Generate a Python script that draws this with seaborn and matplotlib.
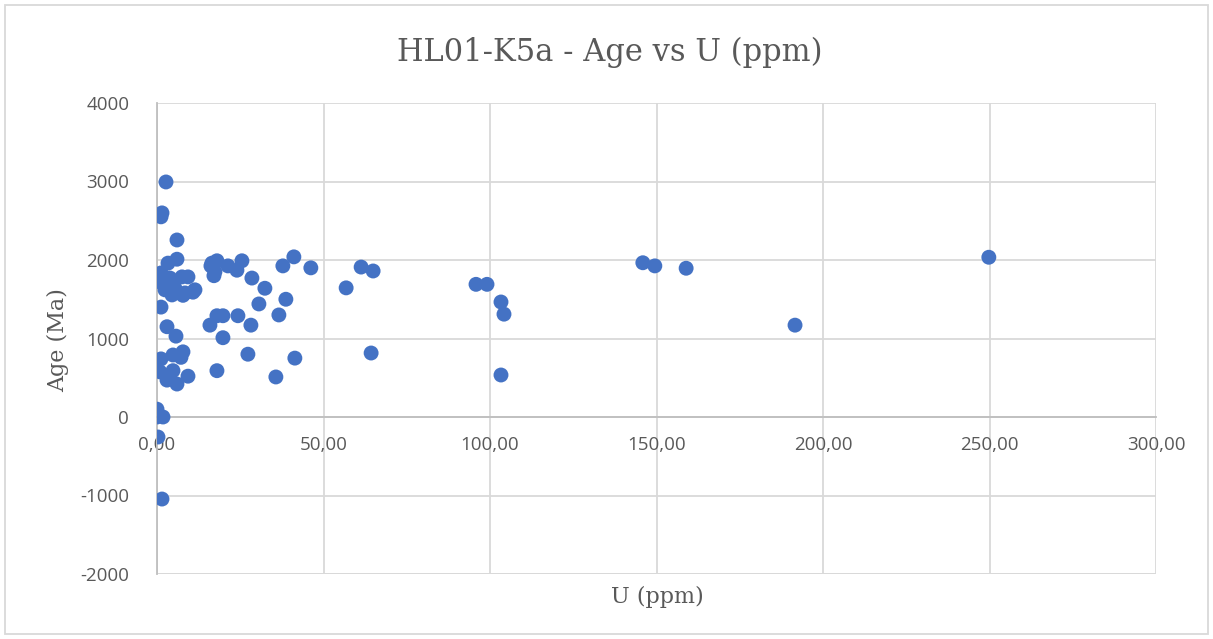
#!/usr/bin/env python3
"""
Scatter of zircon age vs U content (HL01-K5a), Excel-style look.
"""

import pandas as pd
import matplotlib.pyplot as plt
import seaborn as sns
from matplotlib.patches import Rectangle

# U (ppm) and Age (Ma)
u_ppm = [
    2.7, 1.5, 1.2, 6.0, 6.0, 3.3, 1.2, 0.9, 3.9, 7.5, 9.3, 2.4, 5.4, 8.4,
    11.4, 4.5, 1.2, 10.8, 7.8, 16.5, 17.4, 18.0, 16.2, 17.1, 21.3, 25.5,
    24.0, 28.5, 32.4, 37.8, 41.1, 46.2, 30.6, 38.7, 36.6, 18.0, 19.8, 15.9,
    24.3, 28.2, 3.0, 5.7, 19.8, 1.2, 4.8, 7.8, 7.2, 0.9, 4.8, 3.0, 6.0,
    9.3, 18.0, 27.3, 35.7, 41.4, 0.0, 1.8, 0.0, 0.3, 1.5, 56.8, 61.3, 64.9,
    64.3, 95.8, 99.1, 103.3, 104.2, 103.3, 145.9, 149.5, 158.9, 191.6, 249.8,
]
age_ma = [
    2994, 2600, 2550, 2255, 2010, 1960, 1835, 1720, 1770, 1785, 1785, 1620,
    1640, 1580, 1620, 1555, 1400, 1590, 1550, 1960, 1850, 1990, 1925, 1800,
    1925, 1990, 1870, 1770, 1640, 1925, 2040, 1900, 1440, 1500, 1300, 1290,
    1290, 1170, 1290, 1170, 1150, 1030, 1010, 740, 790, 830, 760, 575, 590,
    470, 420, 520, 590, 800, 510, 750, 100, 0, 0, -255, -1045, 1645, 1910,
    1860, 815, 1690, 1690, 1465, 1310, 535, 1965, 1925, 1895, 1170, 2035,
]

x_ticks = [0, 50, 100, 150, 200, 250, 300]
y_ticks = [-2000, -1000, 0, 1000, 2000, 3000, 4000]

GRID = "#d9d9d9"
TEXT = "#595959"
DOT = "#4472c4"


def main():
    df = pd.DataFrame({"U": u_ppm, "Age": age_ma})
    sns.set_style("white")

    fig = plt.figure(figsize=(12.13, 6.39), dpi=100)
    ax = fig.add_axes([157 / 1213, 1 - 574 / 639, 999 / 1213, 471 / 639])

    sns.scatterplot(data=df, x="U", y="Age", ax=ax, color=DOT, s=115,
                    edgecolor="none", zorder=3)

    ax.set_xlim(0, 300)
    ax.set_ylim(-2000, 4000)
    ax.set_xticks(x_ticks)
    ax.set_yticks(y_ticks)
    ax.set_xticklabels([f"{v:.2f}".replace(".", ",") for v in x_ticks])
    ax.set_yticklabels([str(v) for v in y_ticks])

    ax.grid(True, color=GRID, linewidth=1.3, zorder=0)
    for side in ["top", "right"]:
        ax.spines[side].set_visible(False)
    ax.spines["left"].set_color("#bfbfbf")
    ax.spines["left"].set_linewidth(1.3)
    ax.spines["bottom"].set_position(("data", 0))
    ax.spines["bottom"].set_color("#bfbfbf")
    ax.spines["bottom"].set_linewidth(1.3)
    ax.axhline(-2000, color=GRID, linewidth=1.3, zorder=0)
    ax.tick_params(length=0, labelsize=13.5, labelcolor=TEXT)
    ax.tick_params(axis="x", pad=14)
    ax.tick_params(axis="y", pad=20)
    for lbl in ax.get_xticklabels() + ax.get_yticklabels():
        lbl.set_family("Open Sans")

    ax.set_xlabel("")
    ax.set_ylabel("")
    fig.text(657 / 1213, 1 - 597 / 639, "U (ppm)", ha="center", va="center",
             fontsize=16, color=TEXT, family="DejaVu Serif")
    fig.text(58 / 1213, 1 - 340 / 639, "Age (Ma)", ha="center", va="center",
             rotation=90, fontsize=16, color=TEXT, family="DejaVu Serif")
    fig.text(610 / 1213, 1 - 52 / 639, "HL01-K5a - Age vs U (ppm)", ha="center",
             va="center", fontsize=22, color=TEXT, family="DejaVu Serif")

    # chart border like Excel
    fig.patches.append(Rectangle((5 / 1213, 5 / 639), 1 - 10 / 1213, 1 - 10 / 639,
                                 transform=fig.transFigure, fill=False,
                                 edgecolor=GRID, linewidth=1.3))

    fig.savefig("out.png", dpi=100)
    plt.close(fig)


if __name__ == "__main__":
    main()
